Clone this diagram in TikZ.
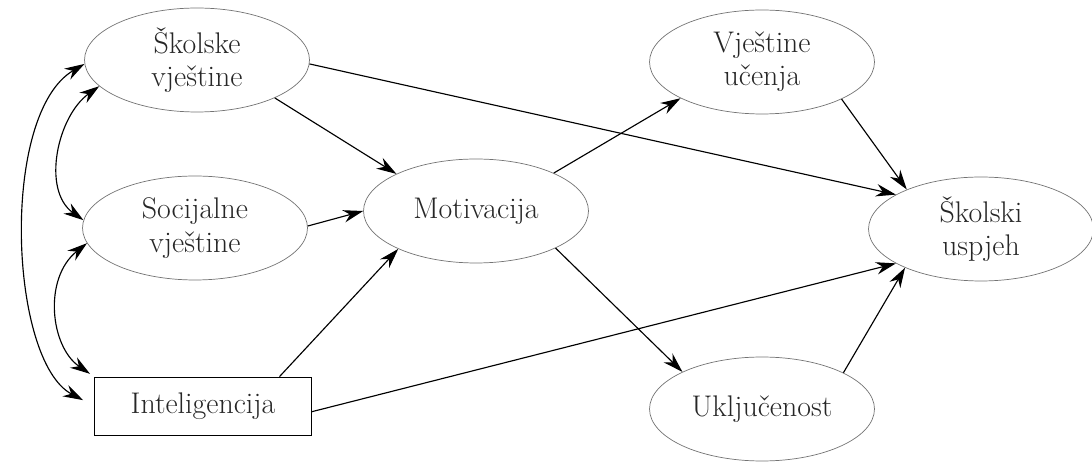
\documentclass[tikz,border=0pt]{standalone}
\usepackage{tikz}
\usetikzlibrary{arrows.meta, shapes.geometric}

\begin{document}
\begin{tikzpicture}[x=0.02cm, y=-0.02cm,% one unit = one pixel of the scan
         > = {Stealth[length=4mm, width=2.5mm]},
ell/.style = {ellipse, draw=black!55, thin,
              minimum width=4.5cm, minimum height=2.08cm,
              inner sep=0pt, align=center, text=black!85,
              font=\fontsize{17}{19}\selectfont},
box/.style = {rectangle, draw, thin,
              minimum width=4.34cm, minimum height=1.16cm,
              inner sep=0pt, text=black!85,
              font=\fontsize{17}{19}\selectfont},
arr/.style = {->, line width=0.65pt},
two/.style = {<->, line width=0.65pt}
                        ]
	\useasboundingbox (0,0) rectangle (1092,462);

	% predictors
	\node[ell] (sv) at (197,60)  {Školske\\ vještine};
	\node[ell] (sc) at (195,228) {Socijalne\\ vještine};
	\node[box] (in) at (203,406) {Inteligencija};

	% mediators
	\node[ell] (mo) at (476,211) {Motivacija};
	\node[ell] (vu) at (762,62)  {Vještine\\ učenja};
	\node[ell] (uk) at (762,409) {Uključenost};

	% outcome
	\node[ell] (su) at (981,229) {Školski\\ uspjeh};

	% correlations
	\draw[two, shorten >=0.25cm] (sv.182) .. controls +(-85,50) and +(-85,-45) .. (in.west);
	\draw[two] (sv.195) .. controls +(-42,30) and +(-42,-30) .. (sc.176);
	\draw[two, shorten >=0.1cm] (sc.188) .. controls +(-44,35) and +(-44,-30) .. (in.north west);

	% paths
	\draw[arr] (sv.-2)  -- (su.158);
	\draw[arr] (sv.-26) -- (mo.155);
	\draw[arr] (sc.1)   -- (mo.180);
	\draw[arr] (in.21)  -- (mo.206);
	\draw[arr] (in.-3)  -- (su.202);
	\draw[arr] (mo.26)  -- (vu.204);
	\draw[arr] (mo.-25) -- (uk.155);
	\draw[arr] (vu.-25) -- (su.152);
	\draw[arr] (uk.24)  -- (su.207);
\end{tikzpicture}
\end{document}
